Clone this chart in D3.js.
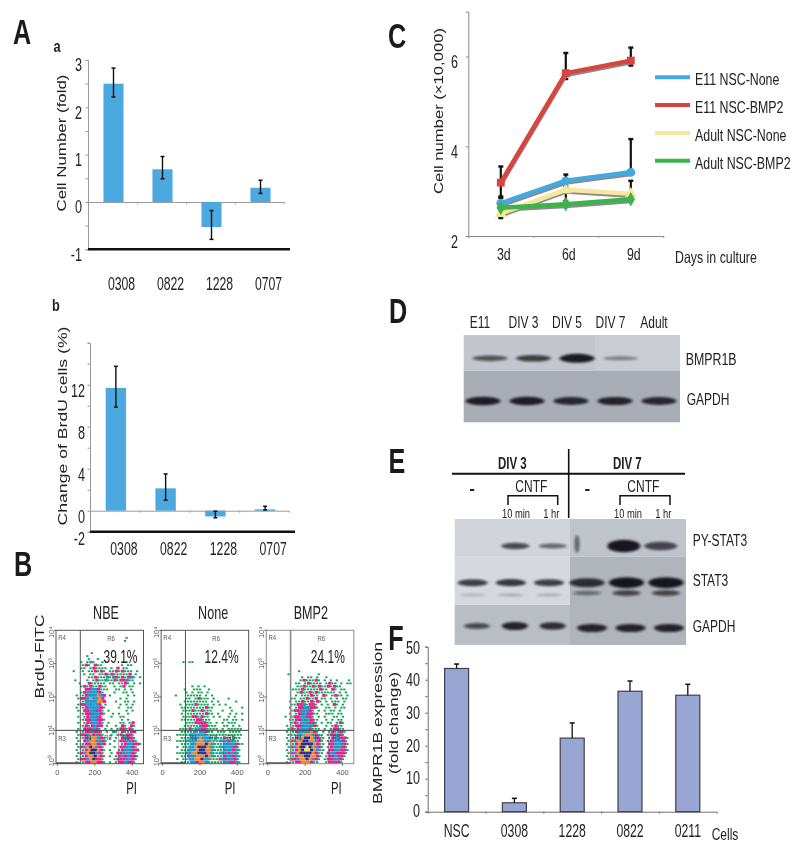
<!DOCTYPE html>
<html><head><meta charset="utf-8">
<script src="https://cdn.jsdelivr.net/npm/d3@7/dist/d3.min.js"></script>
<style>html,body{margin:0;padding:0;background:#fff}svg{display:block;filter:blur(0.35px)}text{fill:#222}</style>
</head><body><svg id="c" width="800" height="850"></svg>
<script>
// ---------- DATA ----------
const cellLines = ["0308","0822","1228","0707"];
const foldValues = [2.5,0.69,-0.53,0.3];
const foldErrHigh = [2.83,0.96,-0.18,0.46];
const foldErrLow = [2.22,0.49,-0.79,0.18];
const foldTicks = [-1,0,1,2,3];
const brduValues = [11.7,2.13,-0.55,0.13];
const brduErrHigh = [13.75,3.5,-0.05,0.42];
const brduErrLow = [9.87,1.0,-0.67,0.07];
const brduTicks = [-2,0,4,8,12];

const days = ["3d","6d","9d"];
const growthTicks = [2,4,6];
const e11None = [2.73,3.23,3.42];
const e11Bmp2 = [3.19,5.63,5.91];
const adultNone = [2.5,3.03,2.94];
const adultBmp2 = [2.63,2.71,2.82];
const e11NoneHigh = [2.85,3.37,4.16];
const e11Bmp2High = [3.55,6.08,6.2];
const adultNoneHigh = [2.6,3.1,3.23];
const adultBmp2High = [2.7,2.78,2.9];
const e11Bmp2Low = [2.88,5.5,5.8];
const adultNoneLow = [2.4,2.73,2.8];
const growthNames = ["E11 NSC-None","E11 NSC-BMP2","Adult NSC-None","Adult NSC-BMP2"];

const fCells = ["NSC","0308","1228","0822","0211"];
const fValues = [43.4,2.7,22.3,36.5,35.3];
const fErr = [44.75,4.05,26.9,39.6,38.6];
const fTicks = [0,10,20,30,40,50];

const flowNames = ["NBE","None","BMP2"];
const flowPercent = ["39.1%","12.4%","24.1%"];
const flowX = [0,200,400];
const flowY = ["10⁰","10¹","10²","10³","10⁴"];
// coarse hand-read dot maps of the three dot plots (g green, m magenta, t teal, b blue, o orange, n navy, y yellow)
const flowNBE = ["","",".......................g","......................g","","","","...........g","..........g","..........g..g",
"........g.gbg..g.......g","........gmg.mgg......g.gg","........gg.gmgggg.g.m.gg",".....g..g.ggmgmg.ggmgmggg.g",".........g.gg.ggmgmgggggm.g","..........ggmgggtgtmgmgmtg.g","......g...g.gmggtggmgmmtgg",".......g..mggggg.gg.ggmg.g.g","........gmgmggmgg..g.gm.gg",".........mmbbmggg..gg.g.g",
"........gmbtbbmg...g..gg.g","......g.gmtbbobm.g.....g.g",".......gmmbobbom.....g.g.","........gtbbboom...g..gg.g",".......gmmbtbbm.g....g.g.g","......g.gmbbbbmg....g..gg",".......g.mmbtmmg.g.....g.g","........gmmtbbmg..g.g..g",".......g.gmbbtm...g..gg","........gmmbbmmg.....g.g",
".......g.gmtbbmg.g...gg.gm","........gmgmbmm.g..g.mg.mg",".......g.mmmbmg.g.g.gmmgmg","......g.gmmtmmg.g.tg.mggmm",".......gmmbomtmg..g.gmgmmg","......g.gmtoobmg.g.g.mtmmg",".......g.mboobtmg..g.mmbtmg","......g.gmmoomtm.g...gmbbmmg",".......gmbonobmg...g.mmtbmg","......g.gmonnomg.g..gmbbtmm",
".......gmbonnbmg..g.mmtbbmg","......g.gmoonomg.g.gmbmbmmg",".......gmmbonmmg...gmmmtbmg","......g.gmmoommg.g.gmmbmmg"];
const flowNone = ["","","","","","","","","","",".......g.gg","","","","","","","","..........g.g.g",".......g..ggg..g",
"........g.g.gg.g","....g...ggggg.g.g","........gg.gmggg.g....g",".......gggggggg.g.g.....g","......g.gggmgggg.g.g.g","......ggggggggmgg.....g...g",".......gggmggmggg...g..g","......g.ggggggmgg.g...g.g.g",".......gggmmgmgg.g.g..g.g","......gggggmmggg....gg.gg.g",
"........gggmmmmgg.g.g.ggg",".......gggggtmmggg..gg.g.g","......gggmgbbmmgggg.g.ggggg","......ggggtgbbmgg.ggg.gggg",".....ggggbtbbbtgggggggggggg","......gggbtbobbbgtggmggtgg",".....gggbtbboobbgggtbbmtgg","......gggtbooonobgggbtbbmgg",".....g.ggbbonnnobggtbbbtmg","......ggtbbonnoobgggtbbmbg",
".....gggbtoonnnobggbtbmbtg","......ggmbtooonobgggmbtmbg",".....g.ggbboonbbgggmbmtbmg","......gggbtmoobgggggtbmmbg"];
const flowBMP2 = ["","","","","","","","","","","","","","..........g",".......g.........g","...........g.gg.g..g","...........gmgggmg.g.g.g...g",".........gg.gmgggg.gmgg.g.gg","..........ggmggmgmggmgmgg","........gggmgggggmgg.mg.gg",
"..........gmggmgmgggggg.g.g",".........g.gggmgg.mg.gmgg.g","........gg.ggmggm.gg.g.g.gg",".......g.ggmggmgmg.g.ggg.g","........ggmmtgmmg.g.g.mg.g",".......g.gmmbtmmg..gg.g.gg","........gmmtbbmg.g.g.gg.g",".......g.gmtbmmgg..ggg.gg","......g.gmmbbmmg.g.g..gg.g",".......ggmmbtbmgg..g.g.gg",
"........gmgbbtmmg.g.gg.gmg","......g.gmmtbbtmg..g.gmgg",".......gmgmbtbmggg.g.gmmgg","......g.gmtbbbomg.g.gmgtmg",".......gggbbooobmgg.gmmbmg","......g.gmbonnobmgg.gmbbmmg",".......gmtoonnoobmg.gmtbbmg","......g.gmonnnnomgg.mmbbtmg",".......gmbonnynobmg.gmbtbmg","......g.gmonyynobgg.mmtbmmg",
".......gmbonnnnomgg.mbbmmmg","......g.gmoonnoomg.gmmbmmg",".......gmmboonobmg.gmmtbmg","......g.gmmooomgg..gmmmmg"];

const dLanes = ["E11","DIV 3","DIV 5","DIV 7","Adult"];
const dBmpr = [0.45,0.6,0.95,0.18,0];
const dGapdh = [0.9,0.9,0.8,0.85,0.8];
const eLanes = ["-","10 min","1 hr"];
const ePyLeft = [0,0.55,0.35], ePyRight = [0,1,0.55];
const eStatLeft = [0.65,0.7,0.65], eStatRight = [0.75,1,1];
const eStatLowLeft = [0.03,0.05,0.05], eStatLowRight = [0.25,0.5,0.5];
const eGapdhLeft = [0.5,0.85,0.75], eGapdhRight = [0.85,0.85,0.85];

// ---------- HELPERS ----------
const svg = d3.select("#c");
const NARROW = "'Liberation Sans',Arial,sans-serif";
const WIDE = "'Liberation Sans',Arial,sans-serif";
const defs = svg.append("defs");
defs.append("filter").attr("id","bandBlur").attr("x","-30%").attr("y","-100%").attr("width","160%").attr("height","300%")
  .append("feGaussianBlur").attr("stdDeviation","1.6 1.2");

function txt(s,x,y,o={}){
  const sx = o.sx!==undefined?o.sx:(o.len?1:0.75);
  const t = svg.append("text").attr("x",0).attr("y",0).attr("dy",".36em").text(s)
    .attr("font-family",o.font||NARROW).attr("font-size",o.size||16)
    .attr("font-weight",o.weight||"normal").attr("text-anchor",o.anchor||"middle")
    .attr("transform",`translate(${x} ${y}) rotate(${o.rot||0}) scale(${sx} 1)`);
  if(o.len) t.attr("textLength",o.len).attr("lengthAdjust","spacingAndGlyphs");
  if(o.fill) t.style("fill",o.fill);
  return t;
}
function styleAxis(g,color="#9a9a9a"){
  g.selectAll("path,line").attr("stroke",color);
  g.selectAll("text").attr("font-family",NARROW).style("fill","#222");
}
function halfTicks(lo,hi,step){return d3.range(lo,hi+step/2,step);}

function panelBar(cfg){
  const y = d3.scaleLinear().domain(cfg.yDomain).range(cfg.yRange);
  const x = d3.scaleBand().domain(cfg.cats).range(cfg.xRange).paddingInner(cfg.gap).paddingOuter(cfg.gap/2);
  const xi = d3.scaleLinear().domain([0,cfg.cats.length]).range(cfg.xRange);
  const g = svg.append("g");
  const axisY = d3.axisLeft(y).tickValues(cfg.minor).tickSize(2.5).tickFormat("");
  const gy = g.append("g").attr("transform",`translate(${cfg.xRange[0]},0)`).call(axisY);
  styleAxis(gy,cfg.axisColor);
  const gx = g.append("g").attr("transform",`translate(0,${y(0)})`)
    .call(d3.axisBottom(xi).tickValues(d3.range(1,cfg.cats.length)).tickSize(2).tickFormat(""));
  styleAxis(gx,cfg.axisColor);
  g.selectAll("rect.bar").data(cfg.values).join("rect").attr("class","bar")
    .attr("x",(d,i)=>x(cfg.cats[i])+cfg.shift).attr("width",x.bandwidth())
    .attr("y",d=>y(Math.max(d,0))).attr("height",d=>Math.abs(y(d)-y(0)))
    .attr("fill",cfg.fill).attr("stroke",cfg.stroke||"none").attr("stroke-width",cfg.stroke?1.2:0);
  const cx = i=>x(cfg.cats[i])+x.bandwidth()/2+cfg.shift+(cfg.errShift||0);
  cfg.values.forEach((v,i)=>{
    const hi = cfg.high[i], lo = cfg.low?cfg.low[i]:v;
    g.append("line").attr("x1",cx(i)).attr("x2",cx(i)).attr("y1",y(hi)).attr("y2",y(lo)).attr("stroke","#111").attr("stroke-width",cfg.errW||1.4);
    g.append("line").attr("x1",cx(i)-cfg.cap).attr("x2",cx(i)+cfg.cap).attr("y1",y(hi)).attr("y2",y(hi)).attr("stroke","#111").attr("stroke-width",1.5);
    if(cfg.low) g.append("line").attr("x1",cx(i)-cfg.cap).attr("x2",cx(i)+cfg.cap).attr("y1",y(lo)).attr("y2",y(lo)).attr("stroke","#111").attr("stroke-width",1.5);
  });
  if(cfg.baseline!==undefined)
    g.append("line").attr("x1",cfg.xRange[0]).attr("x2",cfg.xRange[1]+6).attr("y1",y(cfg.baseline)).attr("y2",y(cfg.baseline)).attr("stroke","#111").attr("stroke-width",2.6);
  cfg.ticks.forEach(t=>txt(String(t),cfg.labelX,y(t)+cfg.labelDy(t),{anchor:"end",size:17.5,sx:.72}));
  cfg.cats.forEach((c,i)=>txt(c,x(c)+x.bandwidth()/2+cfg.catDx,cfg.catY,{size:17.5,sx:.7}));
}

// ---------- PANEL LETTERS ----------
[["A",22,31],["B",23,563],["C",397,35],["D",398,310],["E",397,460],["F",396,637]].forEach(l=>
  txt(l[0],l[1],l[2],{size:36,weight:"bold",fill:"#1a1a1a",sx:.7}));
txt("a",57,46,{size:17,weight:"bold"});
txt("b",56,305,{size:17,weight:"bold"});

// ---------- PANEL A ----------
panelBar({cats:cellLines,values:foldValues,high:foldErrHigh,low:foldErrLow,yDomain:[-1,3],yRange:[249.3,60],xRange:[88,284],gap:0.59,shift:1,
  minor:halfTicks(-1,3,0.5),fill:"#4ba9df",cap:2,baseline:-1,ticks:foldTicks,labelX:82,labelDy:()=>5,catDx:9,catY:284});
txt("Cell Number (fold)",61,143,{font:WIDE,size:13,len:137,rot:-90});
panelBar({cats:cellLines,values:brduValues,high:brduErrHigh,low:brduErrLow,yDomain:[-2,16],yRange:[531.7,342.7],xRange:[90,289],gap:0.59,shift:1,
  minor:halfTicks(-2,16,2),fill:"#4ba9df",cap:2,baseline:-2,ticks:brduTicks,labelX:85,labelDy:t=>t===-2?7:6,catDx:9,catY:549});
txt("Change of BrdU cells (%)",61.7,426,{font:WIDE,size:13.5,len:199,rot:-90});

// ---------- PANEL B ----------
const flowColors = {g:"#17a35a",m:"#e0218f",t:"#1d9a9c",b:"#2196d8",o:"#f08a2a",n:"#2a2f8f",y:"#ece64a"};
const flowData = [flowNBE,flowNone,flowBMP2];
const plotLeft = d3.scalePoint().domain(flowNames).range([56,266.3]);
const plotW = 87.5;
const fy = d3.scaleLinear().domain([0,4]).range([763.7,630.3]);
flowNames.forEach((name,pi)=>{
  const L = plotLeft(name);
  const fx = d3.scaleLinear().domain([-5,463]).range([L,L+plotW]);
  const g = svg.append("g");
  const cols = d3.scaleBand().domain(d3.range(29)).range([L,L+plotW]);
  const rows = d3.scaleBand().domain(d3.range(44)).range([630.3,763.7]);
  const dots = flowData[pi].flatMap((r,ri)=>Array.from(r).map((c,ci)=>({c,ci,ri})).filter(d=>d.c!==".")) ;
  g.selectAll("rect").data(dots).join("rect")
    .attr("x",d=>cols(d.ci)+(d.ri%2?1.5:0)).attr("y",d=>rows(d.ri)+(d.c==="g"?0.6:0))
    .attr("width",d=>d.c==="g"?cols.bandwidth()-0.7:cols.bandwidth()+0.3)
    .attr("height",d=>d.c==="g"?rows.bandwidth()-1.2:rows.bandwidth()-0.2)
    .attr("fill",d=>flowColors[d.c]);
  const frame = pi===2?"#8c8c8c":"#555";
  g.append("rect").attr("x",L).attr("y",630.3).attr("width",plotW).attr("height",133.4).attr("fill","none").attr("stroke",frame).attr("stroke-width",1);
  g.append("line").attr("x1",fx(125)).attr("x2",fx(125)).attr("y1",630.3).attr("y2",763.7).attr("stroke",frame).attr("stroke-width",pi===2?1.6:1);
  g.append("line").attr("x1",fx(330)).attr("x2",fx(330)).attr("y1",fy(1)).attr("y2",763.7).attr("stroke","#555").attr("stroke-width",.7).attr("opacity",.7);
  g.append("line").attr("x1",L).attr("x2",L+plotW).attr("y1",fy(1)).attr("y2",fy(1)).attr("stroke","#444").attr("stroke-width",1);
  g.append("line").attr("x1",L).attr("x2",fx(125)).attr("y1",763).attr("y2",763).attr("stroke","#555").attr("stroke-width",1.6);
  const ax = g.append("g").attr("transform","translate(0,763.7)")
    .call(d3.axisBottom(fx).tickValues(flowX).tickSize(2).tickSizeOuter(0).tickFormat(d=>d));
  ax.select("path").remove(); styleAxis(ax,"#666");
  ax.selectAll("text").attr("font-size",7.5).attr("dy","0.9em").style("fill","#555");
  flowY.forEach((lab,p)=>{
    txt(lab,L-5,fy(p)+(p===0?-3:p===4?2:0),{size:7.5,rot:-90,fill:"#555",sx:1});
    g.append("line").attr("x1",L-2).attr("x2",L).attr("y1",fy(p)).attr("y2",fy(p)).attr("stroke","#666");
  });
  txt("R4",L+6,637,{size:8,fill:"#555"});
  txt("R3",L+6,738,{size:8,fill:"#555"});
  txt("R6",L+55,638,{size:8,fill:"#555"});
  txt("R1",L+32,737,{size:8,fill:"#444"});
  txt("R2",L+52,737,{size:8,fill:"#444"});
  txt("R5",L+70,737,{size:8,fill:"#444"});
  txt(name,L+[50,52,44.5][pi],612.7,{size:17.5,sx:.72});
  txt(flowPercent[pi],L+[64.5,60.5,61.5][pi],656,{size:18.5,sx:.65});
  txt("PI",L+[75.5,69,70][pi],787.7,{size:17,sx:.67});
});
txt("BrdU-FITC",39,656.5,{font:WIDE,size:13.5,len:84,rot:-90});

// ---------- PANEL C ----------
(function(){
  const y = d3.scaleLinear().domain([2,7]).range([236,11.7]);
  const xB = d3.scaleBand().domain(days).range([468.3,663.3]);
  const xi = d3.scaleLinear().domain([0,3]).range([468.3,663.3]);
  const cx = d=>xB(d)+xB.bandwidth()/2;
  const g = svg.append("g");
  styleAxis(g.append("g").attr("transform","translate(468.3,0)").call(d3.axisLeft(y).tickValues(growthTicks).tickSize(2.5).tickFormat("")),"#8a8a8a");
  styleAxis(g.append("g").attr("transform","translate(0,236)").call(d3.axisBottom(xi).tickValues([1,2]).tickSize(2).tickFormat("")),"#8a8a8a");
  const series = [
    {name:growthNames[2],v:adultNone,hi:adultNoneHigh,lo:adultNoneLow,c:"#f6e79d",sym:d3.symbolTriangle},
    {name:growthNames[0],v:e11None,hi:e11NoneHigh,lo:null,c:"#44a9de",sym:d3.symbolCircle},
    {name:growthNames[3],v:adultBmp2,hi:adultBmp2High,lo:null,c:"#3bb54a",sym:d3.symbolDiamond},
    {name:growthNames[1],v:e11Bmp2,hi:e11Bmp2High,lo:e11Bmp2Low,c:"#d8453e",sym:d3.symbolSquare}
  ];
  const err = s=>s.v.forEach((v,i)=>{
    const X=cx(days[i]);
    g.append("line").attr("x1",X).attr("x2",X).attr("y1",y(s.hi[i])).attr("y2",y(s.lo?s.lo[i]:v)).attr("stroke","#111").attr("stroke-width",2.2);
    g.append("line").attr("x1",X-2.5).attr("x2",X+2.5).attr("y1",y(s.hi[i])).attr("y2",y(s.hi[i])).attr("stroke","#111").attr("stroke-width",2.4);
    if(s.lo) g.append("line").attr("x1",X-2.5).attr("x2",X+2.5).attr("y1",y(s.lo[i])).attr("y2",y(s.lo[i])).attr("stroke","#111").attr("stroke-width",2.4);
  });
  series.forEach(err);
  const line = d3.line().x((d,i)=>cx(days[i])).y(d=>y(d));
  series.forEach(s=>{
    g.append("path").attr("d",line(s.v)).attr("transform","translate(0,1.8)").attr("fill","none").attr("stroke","#8b8b8f").attr("stroke-width",4.5);
  });
  series.forEach(s=>{
    g.append("path").attr("d",line(s.v)).attr("fill","none").attr("stroke",s.c).attr("stroke-width",4.5);
    s.v.forEach((v,i)=>g.append("path").attr("d",d3.symbol(s.sym,62)()).attr("transform",`translate(${cx(days[i])},${y(v)})`).attr("fill",s.c));
  });
  growthTicks.forEach(t=>txt(String(t),458,y(t)+5.5,{anchor:"end",size:17.5,sx:.72}));
  days.forEach(d=>txt(d,cx(d)+3,254,{size:16.5}));
  txt("Days in culture",675,257,{anchor:"start",size:16.5});
  txt("Cell number (×10,000)",438,111,{font:WIDE,size:13.5,len:166,rot:-90});
  const legY = d3.scalePoint().domain(growthNames).range([77.3,160.7]);
  const legC = {[growthNames[0]]:"#44a9de",[growthNames[1]]:"#d8453e",[growthNames[2]]:"#f6e79d",[growthNames[3]]:"#3bb54a"};
  growthNames.forEach(n=>{
    svg.append("line").attr("x1",655).attr("x2",690).attr("y1",legY(n)).attr("y2",legY(n)).attr("stroke",legC[n]).attr("stroke-width",4);
    txt(n,695,legY(n)+2,{anchor:"start",size:16.5});
  });
})();

// ---------- WESTERN BLOTS ----------
const bandRy = d3.scaleLinear().domain([0,1]).range([1.4,4.6]);
const bandOp = d3.scaleSqrt().domain([0,1]).range([0,0.95]);
function blotRow(vals,lanes,xRange,yc,bw,k=1){
  const x = d3.scalePoint().domain(lanes).range(xRange);
  svg.append("g").attr("filter","url(#bandBlur)").selectAll("ellipse").data(vals).join("ellipse")
    .attr("cx",(d,i)=>x(lanes[i])).attr("cy",yc).attr("rx",bw/2).attr("ry",d=>bandRy(d)*k)
    .attr("fill","#101216").attr("opacity",d=>bandOp(d));
}
function bg(x,y,w,h,c){svg.append("rect").attr("x",x).attr("y",y).attr("width",w).attr("height",h).attr("fill",c);}

// Panel D
dLanes.forEach((n,i)=>{
  const x = d3.scalePoint().domain(dLanes).range([480,654]);
  txt(n,x(n),322,{size:16});
});
bg(463.7,335,216.3,35.7,"#c3c6cc");
bg(595,335,85,35.7,"#c9ccd2");
bg(463.7,370.7,216.3,51.6,"#a9adb5");
blotRow(dBmpr,dLanes,[490,664],358.3,35);
blotRow(dGapdh,dLanes,[483,659],401,35);
txt("BMPR1B",685.7,359,{anchor:"start",size:16.5});
txt("GAPDH",686.7,399,{anchor:"start",size:16});

// Panel E
svg.append("line").attr("x1",452).attr("x2",685).attr("y1",473.7).attr("y2",473.7).attr("stroke","#111").attr("stroke-width",2);
svg.append("line").attr("x1",568.7).attr("x2",568.7).attr("y1",449).attr("y2",518).attr("stroke","#111").attr("stroke-width",1.6);
txt("DIV 3",512.3,463,{size:16,weight:"bold",sx:.72});
txt("DIV 7",627.3,463,{size:16,weight:"bold",sx:.72});
[[472,531.3,508,557.7,516,551.3],[587.3,643.3,620,670,628,663.3]].forEach(a=>{
  txt("-",a[0],487.7,{size:17,weight:"bold",sx:1});
  txt("CNTF",a[1],486,{size:16});
  svg.append("path").attr("d",d3.line()([[a[2],505],[a[2],495.7],[a[3],495.7],[a[3],505]])).attr("fill","none").attr("stroke","#111").attr("stroke-width",1.5);
  txt(eLanes[1],a[4],513.5,{size:12.5});
  txt(eLanes[2],a[5],513.5,{size:12.5});
});
bg(454.7,519,115.3,37.7,"#d1d4d9"); bg(570,519,116,37.7,"#bfc3ca");
bg(454.7,556.7,115.3,48.3,"#d5d9df"); bg(570,556.7,116,48.3,"#b0b4bb");
bg(454.7,605,115.3,40,"#b9bdc4"); bg(570,605,116,40,"#b0b4bb");
// smudge on the DIV 7 membrane edge
svg.append("ellipse").attr("cx",577).attr("cy",544).attr("rx",2.5).attr("ry",9).attr("fill","#2a2c30").attr("opacity",.65).attr("filter","url(#bandBlur)");
blotRow(ePyLeft,eLanes,[478,552.7],546,28);
blotRow(ePyRight,eLanes,[587,660.7],546,33,1.35);
blotRow(eStatLeft,eLanes,[472.7,549],582.7,30);
blotRow(eStatRight,eLanes,[587,666],582.7,35,1.2);
blotRow(eStatLowLeft,eLanes,[472.7,549],595,26);
blotRow(eStatLowRight,eLanes,[587,666],593,28);
blotRow(eGapdhLeft,eLanes,[477,552.7],626,26);
blotRow(eGapdhRight,eLanes,[592,669],628,30);
txt("PY-STAT3",692.7,540,{anchor:"start",size:16});
txt("STAT3",692.7,580,{anchor:"start",size:16});
txt("GAPDH",692.7,626,{anchor:"start",size:16});

// ---------- PANEL F ----------
panelBar({cats:fCells,values:fValues,high:fErr,yDomain:[0,50],yRange:[811.7,646.7],xRange:[427.7,716.7],gap:0.585,shift:0,
  minor:halfTicks(0,50,5),fill:"#99a6d3",stroke:"#3c4048",cap:2.5,ticks:fTicks,labelX:420,labelDy:t=>-1+(t===50?2:t===0?0:t===10?0:1),catDx:0,catY:830.7,axisColor:"#6d6d6d",errW:1.3});
txt("BMPR1B expression",377.3,723,{font:WIDE,size:13,len:162,rot:-90});
txt("(fold change)",393.3,723,{font:WIDE,size:13,len:102,rot:-90});
txt("Cells",711.7,834,{anchor:"start",size:16});
</script></body></html>
